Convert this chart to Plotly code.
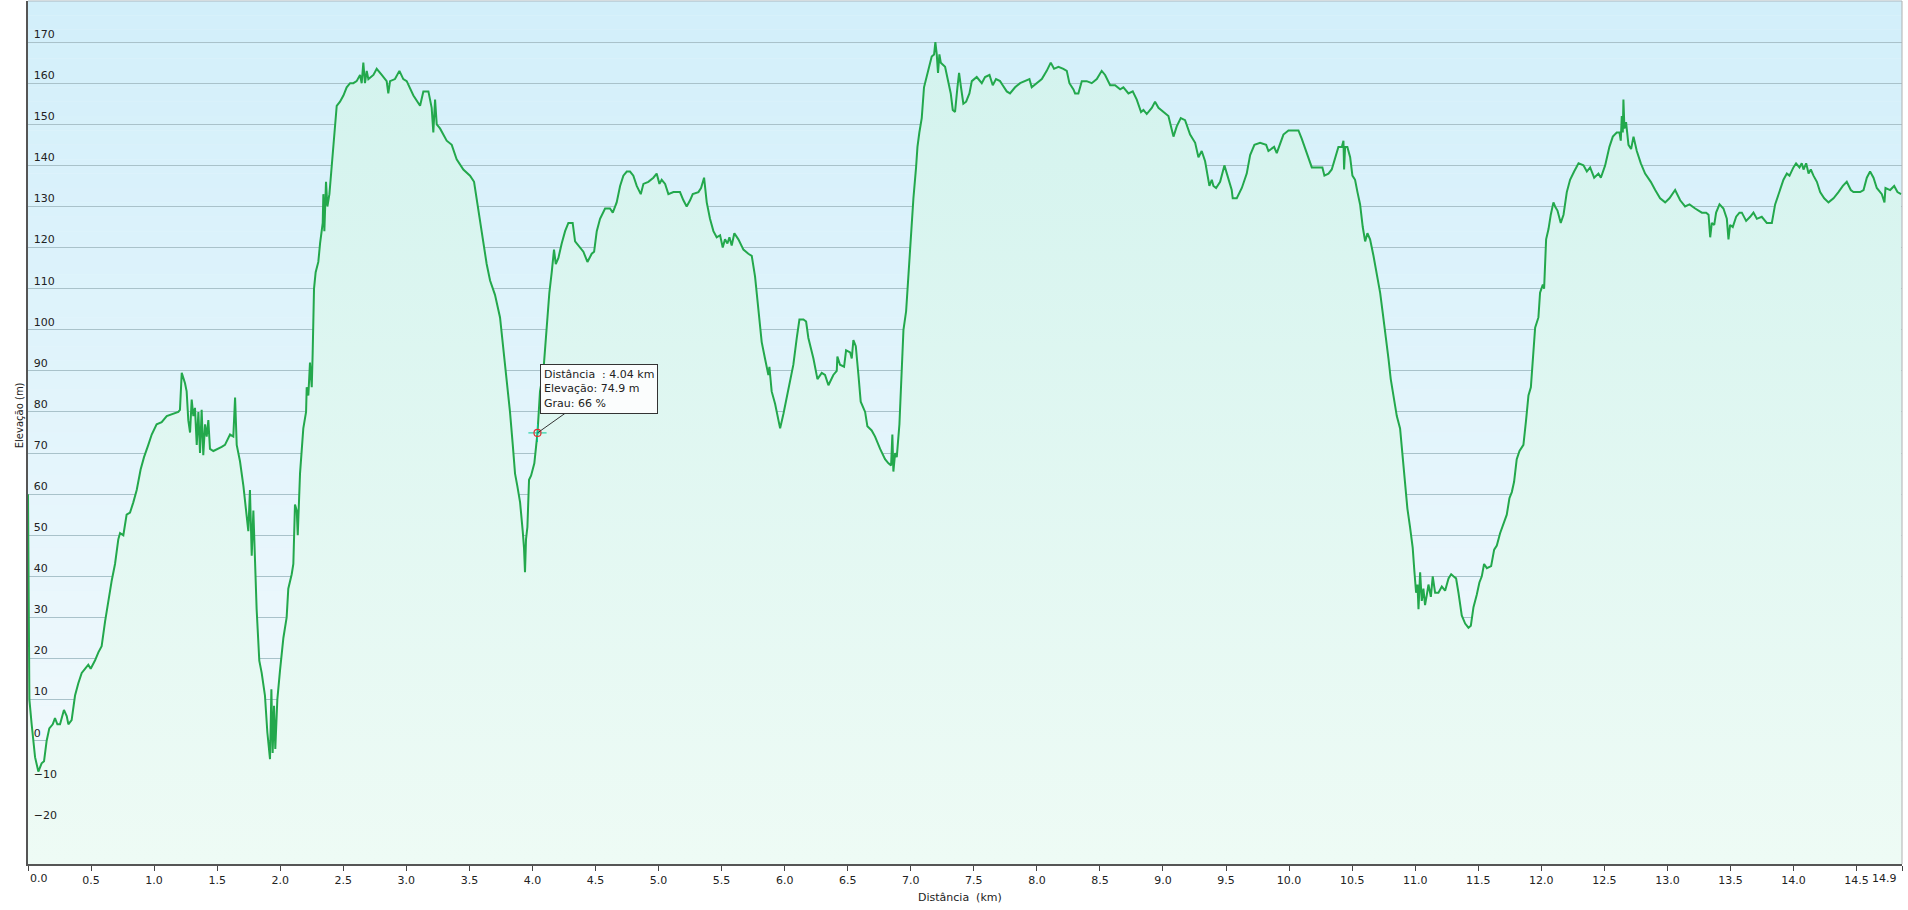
import plotly.graph_objects as go

# ---------------- data ----------------
DIST_KM = [
    0.000, 0.011, 0.029, 0.042, 0.056, 0.082, 0.108, 0.127, 0.148, 0.169,
    0.196, 0.214, 0.233, 0.254, 0.285, 0.307, 0.320, 0.346, 0.373, 0.399,
    0.426, 0.452, 0.478, 0.497, 0.531, 0.558, 0.584, 0.611, 0.637, 0.664,
    0.690, 0.716, 0.730, 0.756, 0.782, 0.809, 0.835, 0.862, 0.893, 0.920,
    0.954, 0.981, 1.020, 1.060, 1.100, 1.139, 1.192, 1.205, 1.219, 1.245,
    1.258, 1.271, 1.285, 1.298, 1.311, 1.324, 1.338, 1.351, 1.364, 1.377,
    1.390, 1.404, 1.417, 1.430, 1.443, 1.470, 1.509, 1.536, 1.562, 1.602,
    1.628, 1.642, 1.655, 1.681, 1.708, 1.734, 1.747, 1.760, 1.774, 1.787,
    1.800, 1.813, 1.834, 1.853, 1.879, 1.898, 1.919, 1.930, 1.940, 1.951,
    1.961, 1.977, 1.998, 2.025, 2.051, 2.064, 2.091, 2.104, 2.117, 2.131,
    2.139, 2.157, 2.183, 2.205, 2.210, 2.223, 2.236, 2.250, 2.257, 2.268,
    2.281, 2.302, 2.316, 2.337, 2.342, 2.350, 2.363, 2.374, 2.390, 2.408,
    2.427, 2.448, 2.474, 2.501, 2.527, 2.554, 2.580, 2.606, 2.633, 2.646,
    2.659, 2.672, 2.686, 2.699, 2.739, 2.765, 2.805, 2.844, 2.857, 2.871,
    2.910, 2.945, 2.976, 3.003, 3.056, 3.109, 3.135, 3.175, 3.201, 3.214,
    3.228, 3.241, 3.267, 3.320, 3.360, 3.399, 3.452, 3.505, 3.537, 3.571,
    3.606, 3.637, 3.664, 3.703, 3.743, 3.770, 3.796, 3.822, 3.844, 3.862,
    3.880, 3.902, 3.923, 3.933, 3.941, 3.949, 3.960, 3.973, 3.989, 4.015,
    4.040, 4.060, 4.087, 4.100, 4.113, 4.134, 4.153, 4.171, 4.185, 4.206,
    4.232, 4.259, 4.285, 4.319, 4.338, 4.377, 4.404, 4.436, 4.470, 4.489,
    4.510, 4.536, 4.576, 4.615, 4.637, 4.668, 4.695, 4.721, 4.748, 4.774,
    4.800, 4.827, 4.859, 4.880, 4.919, 4.959, 4.985, 5.007, 5.025, 5.052,
    5.078, 5.118, 5.170, 5.197, 5.223, 5.250, 5.271, 5.316, 5.337, 5.361,
    5.382, 5.408, 5.435, 5.461, 5.488, 5.509, 5.527, 5.546, 5.562, 5.580,
    5.601, 5.633, 5.673, 5.712, 5.739, 5.765, 5.792, 5.818, 5.844, 5.871,
    5.879, 5.897, 5.924, 5.950, 5.964, 5.990, 6.030, 6.069, 6.096, 6.117,
    6.149, 6.170, 6.188, 6.228, 6.260, 6.294, 6.320, 6.347, 6.386, 6.413,
    6.418, 6.439, 6.471, 6.487, 6.519, 6.532, 6.545, 6.564, 6.585, 6.603,
    6.638, 6.656, 6.690, 6.717, 6.757, 6.796, 6.823, 6.844, 6.854, 6.862,
    6.876, 6.889, 6.910, 6.928, 6.942, 6.963, 6.981, 7.008, 7.021, 7.042,
    7.053, 7.068, 7.087, 7.105, 7.127, 7.148, 7.166, 7.185, 7.195, 7.206,
    7.216, 7.227, 7.238, 7.272, 7.298, 7.317, 7.333, 7.351, 7.370, 7.383,
    7.396, 7.417, 7.439, 7.465, 7.484, 7.523, 7.563, 7.589, 7.624, 7.650,
    7.676, 7.708, 7.729, 7.761, 7.787, 7.827, 7.867, 7.906, 7.941, 7.959,
    7.999, 8.039, 8.078, 8.110, 8.136, 8.171, 8.210, 8.237, 8.258, 8.290,
    8.303, 8.329, 8.356, 8.395, 8.435, 8.475, 8.514, 8.541, 8.581, 8.620,
    8.660, 8.686, 8.726, 8.760, 8.792, 8.826, 8.845, 8.871, 8.911, 8.937,
    8.964, 9.043, 9.083, 9.109, 9.141, 9.175, 9.215, 9.255, 9.281, 9.307,
    9.334, 9.368, 9.387, 9.400, 9.421, 9.453, 9.487, 9.519, 9.545, 9.553,
    9.585, 9.625, 9.664, 9.691, 9.725, 9.770, 9.818, 9.836, 9.862, 9.881,
    9.902, 9.929, 9.955, 9.995, 10.034, 10.074, 10.100, 10.140, 10.180, 10.219,
    10.264, 10.280, 10.312, 10.338, 10.365, 10.391, 10.418, 10.431, 10.436, 10.444,
    10.462, 10.484, 10.502, 10.523, 10.542, 10.563, 10.584, 10.603, 10.621, 10.642,
    10.669, 10.695, 10.722, 10.743, 10.761, 10.788, 10.806, 10.827, 10.854, 10.880,
    10.901, 10.920, 10.938, 10.959, 10.980, 10.994, 11.007, 11.018, 11.026, 11.039,
    11.052, 11.065, 11.078, 11.092, 11.105, 11.124, 11.139, 11.158, 11.184, 11.211,
    11.237, 11.264, 11.285, 11.303, 11.324, 11.343, 11.369, 11.396, 11.422, 11.441,
    11.462, 11.488, 11.509, 11.528, 11.546, 11.568, 11.602, 11.626, 11.647, 11.673,
    11.700, 11.726, 11.747, 11.766, 11.784, 11.805, 11.827, 11.858, 11.879, 11.898,
    11.917, 11.932, 11.951, 11.977, 11.990, 12.012, 12.022, 12.038, 12.057, 12.075,
    12.096, 12.109, 12.128, 12.154, 12.176, 12.202, 12.228, 12.260, 12.295, 12.334,
    12.361, 12.387, 12.419, 12.453, 12.472, 12.506, 12.540, 12.567, 12.598, 12.620,
    12.630, 12.638, 12.646, 12.651, 12.659, 12.672, 12.691, 12.712, 12.731, 12.757,
    12.789, 12.823, 12.868, 12.903, 12.942, 12.982, 13.016, 13.061, 13.101, 13.140,
    13.175, 13.220, 13.273, 13.307, 13.326, 13.339, 13.352, 13.371, 13.386, 13.413,
    13.444, 13.471, 13.484, 13.497, 13.518, 13.545, 13.571, 13.590, 13.624, 13.656,
    13.682, 13.709, 13.748, 13.788, 13.828, 13.854, 13.880, 13.920, 13.947, 13.968,
    13.999, 14.020, 14.047, 14.065, 14.079, 14.100, 14.119, 14.137, 14.158, 14.185,
    14.211, 14.243, 14.277, 14.317, 14.356, 14.391, 14.422, 14.454, 14.475, 14.528,
    14.555, 14.581, 14.607, 14.634, 14.660, 14.700, 14.721, 14.729, 14.766, 14.798,
    14.824, 14.853,
]

ELEV_M = [
    60, 10, 4, 0, -4, -7.5, -5.5, -5, 0, 3,
    4, 5.5, 4, 4, 7.5, 6, 4, 5, 11, 14,
    16.5, 17.5, 18.5, 17.5, 19.5, 21.5, 23, 29, 34, 39,
    43, 49, 50.5, 50, 55, 55.5, 58, 61, 66, 69,
    72, 74.5, 77, 77.5, 79, 79.5, 80, 80.5, 89.5, 87,
    85, 78, 75, 83, 79, 81, 72, 80, 70, 80.5,
    69.5, 77, 74, 78, 71, 70.5, 71, 71.5, 72, 74.5,
    74, 83.5, 72, 68, 62, 55, 51, 61, 45, 56,
    42, 32, 19.5, 16.5, 11, 2, -4.5, 12.5, -3, 8.5,
    -2, 10, 17, 25, 30, 37, 40.5, 43, 57.5, 56,
    50, 65, 76, 80, 86, 84, 92, 86, 94, 110,
    114, 116.5, 121, 126, 133, 124, 136, 130, 133, 140,
    148, 154.5, 155.5, 157, 159, 160, 160, 160.5, 162, 160,
    165, 160, 163, 161, 162, 163.5, 162, 160.5, 157.5, 160.5,
    161, 163, 161, 160.5, 157, 154.5, 158, 158, 154, 148,
    156, 150, 149, 146, 145, 141.5, 139, 137.5, 136, 129,
    122, 116, 112, 108.5, 103, 95, 88, 80, 72, 65,
    62, 58, 51, 47, 41, 49, 52, 63.5, 64.5, 67.5,
    74.9, 85, 90, 95.5, 100, 109, 114, 119.5, 116, 117.5,
    121, 124, 126, 126, 121.5, 120, 119, 116.5, 118.5, 119,
    124, 127, 129.5, 129.5, 128.5, 131, 135, 137.5, 138.5, 138.5,
    137.5, 135, 133, 135.5, 136, 137, 138, 135.5, 136.5, 135.5,
    133, 133.5, 133.5, 131.5, 130, 131.5, 133, 133.5, 134.5, 137,
    131, 127, 124, 122.5, 123, 120, 122, 121, 122.5, 120.5,
    123.5, 122, 119.5, 118.5, 118, 113, 105, 97, 93, 89,
    91, 85, 82, 77.5, 76, 79.5, 85.5, 91.5, 98, 102.5,
    102.5, 102, 98, 93, 88, 89.5, 89, 86.5, 89, 90,
    93.5, 91.5, 91, 95, 94.5, 93, 97.5, 96, 89, 82.5,
    80, 76.5, 75.5, 74, 71, 68.5, 67.5, 67, 74.5, 65.5,
    70, 69, 77, 90, 100, 104.5, 114, 126, 132, 139.5,
    144.5, 148, 151.5, 159, 162, 164.5, 166.5, 167, 170, 167,
    162.5, 167, 165, 164, 160, 157.5, 153.5, 153, 159, 162.5,
    159.5, 155, 155.5, 157.5, 160.5, 161.5, 160, 161.5, 162, 159.5,
    161, 160.5, 159.5, 158, 157.5, 159, 160, 160.5, 161, 159,
    160, 161, 163, 165, 163.5, 164, 163.5, 163, 160, 158.5,
    157.5, 157.5, 160.5, 160.5, 160, 161, 163, 162, 159.5, 159.5,
    158.5, 159, 157.5, 158, 156, 153, 153.5, 152.5, 154, 155.5,
    154, 152, 147, 149.5, 151.5, 151, 147.5, 145.5, 142, 143.5,
    141, 135, 136.5, 135, 134.5, 136, 140, 137, 134, 132,
    132, 134.5, 138, 142.5, 145, 145.5, 145, 143.5, 144, 144.5,
    143, 145.5, 147.5, 148.5, 148.5, 148.5, 146.5, 143, 139.5, 139.5,
    139.5, 137.5, 138, 139, 142, 144.5, 144.5, 146, 139, 144.5,
    144.5, 142, 137.5, 136.5, 133.5, 130.5, 125, 121.5, 123.5, 122,
    118, 113.5, 109, 104, 100, 93, 88, 83.5, 79, 76,
    69, 61, 56.5, 52, 47, 41, 36, 38, 32, 41,
    34, 37, 33, 35.5, 38, 35, 40, 36, 36, 37.5,
    36.5, 39.5, 40.5, 40, 39.5, 36, 30.5, 28.5, 27.5, 28,
    32.5, 35.5, 38.5, 40, 43, 42, 42.5, 46.5, 47.5, 50.5,
    53, 55, 59, 60.5, 63, 68.5, 70.5, 72, 78, 84,
    86, 93.5, 100.5, 103, 109, 111, 110, 122, 124.5, 128,
    131, 130, 129, 126, 128, 133.5, 136.5, 138.5, 140.5, 140,
    138.5, 139.5, 137, 138, 137, 140, 144.5, 147, 148, 148,
    146, 152, 148, 156, 149, 150.5, 145, 144, 147, 143.5,
    140.5, 138, 136, 134, 132, 131, 132, 134, 131.5, 130,
    130.5, 129.5, 128.5, 128.5, 128, 122.5, 126, 125.5, 128.5, 130.5,
    129.5, 127, 122, 125.5, 125, 127.5, 128.5, 128.5, 126.5, 127.5,
    128.5, 127, 127.5, 126, 126, 130.5, 133, 136.5, 138, 137.5,
    139.5, 140.5, 139.5, 140.5, 139, 140.5, 138, 139, 137.5, 136,
    133.5, 132, 131, 132, 133.5, 135, 136, 134, 133.5, 133.5,
    134, 137, 138.5, 137, 134.5, 133, 131, 134.5, 134, 135,
    133.5, 133,
]

X_RANGE = [0, 14.86]
Y_RANGE = [-30, 180]
X_TICK_VALS = [0.0, 0.5, 1.0, 1.5, 2.0, 2.5, 3.0, 3.5, 4.0, 4.5, 5.0, 5.5, 6.0,
               6.5, 7.0, 7.5, 8.0, 8.5, 9.0, 9.5, 10.0, 10.5, 11.0, 11.5, 12.0,
               12.5, 13.0, 13.5, 14.0, 14.5, 14.86]
X_TICK_TEXT = ["0.0", "0.5", "1.0", "1.5", "2.0", "2.5", "3.0", "3.5", "4.0",
               "4.5", "5.0", "5.5", "6.0", "6.5", "7.0", "7.5", "8.0", "8.5",
               "9.0", "9.5", "10.0", "10.5", "11.0", "11.5", "12.0", "12.5",
               "13.0", "13.5", "14.0", "14.5", "14.9"]
Y_TICK_VALS = [-20, -10, 0, 10, 20, 30, 40, 50, 60, 70, 80, 90, 100, 110, 120,
               130, 140, 150, 160, 170]

TIP_KM = 4.04
TIP_ELEV = 74.9
TIP_GRADE = 66

FONT = "DejaVu Sans"
LINE_GREEN = "#23a84c"
TICK_FONT = dict(family=FONT, size=11, color="#222")

fig = go.Figure()

# invisible baseline at the bottom of the axis so the fill reaches the floor
fig.add_trace(go.Scatter(
    x=[X_RANGE[0], X_RANGE[1]], y=[Y_RANGE[0], Y_RANGE[0]],
    mode="lines", line=dict(width=0), hoverinfo="skip", showlegend=False))

fig.add_trace(go.Scatter(
    x=DIST_KM, y=ELEV_M, mode="lines",
    line=dict(color=LINE_GREEN, width=2),
    fill="tonexty",
    fillgradient=dict(type="vertical", start=Y_RANGE[0], stop=170,
                      colorscale=[[0, "rgb(238,251,245)"], [1, "rgb(211,243,238)"]]),
    showlegend=False, hoverinfo="skip"))

# tooltip marker
fig.add_trace(go.Scatter(
    x=[TIP_KM], y=[TIP_ELEV], mode="markers",
    marker=dict(symbol="cross-thin-open", size=13, line=dict(color="#e03030", width=1)),
    showlegend=False, hoverinfo="skip"))
fig.add_trace(go.Scatter(
    x=[TIP_KM], y=[TIP_ELEV], mode="markers",
    marker=dict(symbol="circle-open", size=7, color="#e03030", line=dict(color="#e03030", width=1.2)),
    showlegend=False, hoverinfo="skip"))

# background vertical gradient (stripes)
shapes = []
N = 60
top = (210, 239, 250)
bot = (244, 250, 253)
for i in range(N):
    t = (i + 0.5) / N  # 0 bottom -> 1 top
    c = tuple(round(bot[k] + (top[k] - bot[k]) * t) for k in range(3))
    shapes.append(dict(type="rect", xref="paper", yref="paper",
                       x0=0, x1=1, y0=i / N, y1=(i + 1) / N,
                       fillcolor="rgb(%d,%d,%d)" % c, line=dict(width=0),
                       layer="below"))
# top and right border
shapes.append(dict(type="line", xref="paper", yref="paper", x0=0, x1=1, y0=1, y1=1,
                   line=dict(color="#aab8bf", width=1)))
shapes.append(dict(type="line", xref="paper", yref="paper", x0=1, x1=1, y0=0, y1=1,
                   line=dict(color="#b0b0b0", width=1)))

# first and last tick labels are pulled inside the plot edges (as in the reference)
axis_ticktext = [""] + X_TICK_TEXT[1:-1] + [""]

annotations = [
    dict(x=TIP_KM, y=TIP_ELEV, xref="x", yref="y",
         text=("Distância\u00a0 : %.2f\u00a0km<br>Elevação: %.1f\u00a0m<br>Grau: %d\u00a0%%"
               % (TIP_KM, TIP_ELEV, TIP_GRADE)),
         showarrow=True, arrowhead=0, arrowwidth=1, arrowcolor="#333",
         ax=62, ay=-44, align="left",
         font=dict(family=FONT, size=11, color="#222"),
         bgcolor="#fbfdfd", bordercolor="#333", borderwidth=1, borderpad=3),
    dict(text=X_TICK_TEXT[0], x=X_TICK_VALS[0], xref="x", y=0, yref="paper",
         xanchor="left", yanchor="middle", xshift=0, yshift=-14,
         showarrow=False, font=TICK_FONT),
    dict(text=X_TICK_TEXT[-1], x=X_TICK_VALS[-1], xref="x", y=0, yref="paper",
         xanchor="right", yanchor="middle", xshift=-3, yshift=-14,
         showarrow=False, font=TICK_FONT),
    dict(text="Elevação (m)", xref="paper", yref="paper", x=0, y=0.52,
         xshift=-9, textangle=-90, showarrow=False,
         xanchor="center", yanchor="middle",
         font=dict(family=FONT, size=10, color="#222")),
    dict(text="Distância\u00a0 (km)", xref="paper", yref="paper", x=0.5, y=0,
         xshift=-5, yshift=-33, showarrow=False,
         xanchor="center", yanchor="middle",
         font=dict(family=FONT, size=11, color="#222")),
]

fig.update_layout(
    width=1908, height=910,
    margin=dict(l=28, r=6, t=1, b=46, pad=0, autoexpand=False),
    paper_bgcolor="white", plot_bgcolor="rgb(230,245,252)",
    shapes=shapes, annotations=annotations,
    font=dict(family=FONT, size=11, color="#222"),
    xaxis=dict(range=X_RANGE, tickmode="array", tickvals=X_TICK_VALS, ticktext=axis_ticktext,
               showgrid=False, zeroline=False, showline=True, linecolor="#555", linewidth=2,
               ticks="outside", ticklen=5, tickwidth=1, tickcolor="#444",
               automargin=False, ticklabeloverflow="allow",
               tickfont=TICK_FONT, fixedrange=True),
    yaxis=dict(range=Y_RANGE, tickmode="array", tickvals=Y_TICK_VALS,
               showgrid=True, gridcolor="#a9c2ca", gridwidth=1,
               zeroline=False, showline=True, linecolor="#555", linewidth=2,
               ticks="", ticklabelposition="inside", ticklabelshift=-8,
               ticklabelstandoff=5, automargin=False, ticklabeloverflow="allow",
               tickfont=TICK_FONT, fixedrange=True),
)

fig.write_html(
    "out.html",
    config={"displayModeBar": False, "staticPlot": True},
    post_script="document.body.style.margin='0';document.body.style.overflow='hidden';",
)
